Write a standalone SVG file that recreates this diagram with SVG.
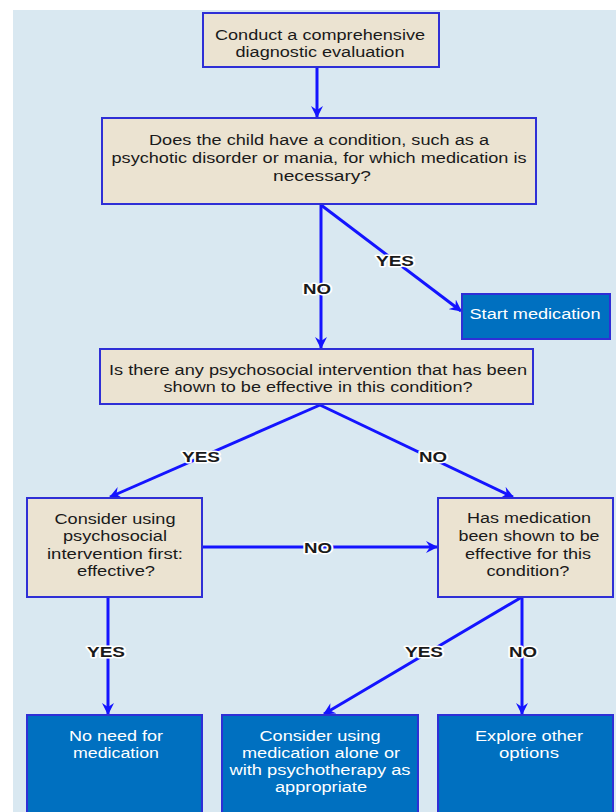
<svg xmlns="http://www.w3.org/2000/svg" width="616" height="812" viewBox="0 0 616 812">
<defs>
<marker id="ah" viewBox="0 0 12 12" refX="11" refY="6" markerWidth="12" markerHeight="12" markerUnits="userSpaceOnUse" orient="auto">
<path d="M0,0 L12,6 L0,12 L4,6 z" fill="#1414ff"/>
</marker>
<style>
.q{fill:#ebe3d1;stroke:#2f2fd6;stroke-width:2}
.o{fill:#0070c0;stroke:#2f2fd6;stroke-width:2}
.t{font-family:"Liberation Sans",Arial,sans-serif;font-size:14px;fill:#1a1a1a;text-anchor:middle}
.w{font-family:"Liberation Sans",Arial,sans-serif;font-size:14px;fill:#ffffff;text-anchor:middle}
.c{fill:none;stroke:#1414ff;stroke-width:3;marker-end:url(#ah)}
.l{font-family:"Liberation Sans",Arial,sans-serif;font-size:14px;font-weight:bold;fill:#1a1a1a;text-anchor:middle;stroke:#ffffff;stroke-width:3;paint-order:stroke;stroke-linejoin:round}
</style>
</defs>
<rect x="0" y="0" width="616" height="812" fill="#ffffff"/>
<rect x="13" y="10" width="603" height="802" fill="#d9e8f1"/>

<g id="connectors">
<line class="c" x1="317" y1="68" x2="317" y2="117"/>
<line class="c" x1="321" y1="205" x2="321" y2="348"/>
<line class="c" x1="321" y1="205" x2="461" y2="311"/>
<line class="c" x1="320" y1="405" x2="110" y2="497"/>
<line class="c" x1="320" y1="405" x2="513" y2="497"/>
<line class="c" x1="202" y1="547" x2="437" y2="547"/>
<line class="c" x1="108" y1="597" x2="108" y2="714"/>
<line class="c" x1="522" y1="597" x2="522" y2="714"/>
<line class="c" x1="522" y1="597" x2="324" y2="714"/>
<text class="l" x="395" y="266" textLength="38" lengthAdjust="spacingAndGlyphs">YES</text>
<text class="l" x="317" y="294" textLength="28" lengthAdjust="spacingAndGlyphs">NO</text>
<text class="l" x="201" y="462" textLength="38" lengthAdjust="spacingAndGlyphs">YES</text>
<text class="l" x="433" y="462" textLength="28" lengthAdjust="spacingAndGlyphs">NO</text>
<text class="l" x="318" y="553" textLength="28" lengthAdjust="spacingAndGlyphs">NO</text>
<text class="l" x="106" y="657" textLength="38" lengthAdjust="spacingAndGlyphs">YES</text>
<text class="l" x="424" y="657" textLength="38" lengthAdjust="spacingAndGlyphs">YES</text>
<text class="l" x="523" y="657" textLength="28" lengthAdjust="spacingAndGlyphs">NO</text>
</g>

<g id="n1">
<rect class="q" x="203" y="13" width="236" height="54"/>
<text class="t" x="320" y="40" textLength="210" lengthAdjust="spacingAndGlyphs">Conduct a comprehensive</text>
<text class="t" x="320" y="57" textLength="169" lengthAdjust="spacingAndGlyphs">diagnostic evaluation</text>
</g>

<g id="n2">
<rect class="q" x="102" y="118" width="434" height="86"/>
<text class="t" x="319" y="145" textLength="340" lengthAdjust="spacingAndGlyphs">Does the child have a condition, such as a</text>
<text class="t" x="319" y="163" textLength="415" lengthAdjust="spacingAndGlyphs">psychotic disorder or mania, for which medication is</text>
<text class="t" x="322" y="181" textLength="98" lengthAdjust="spacingAndGlyphs">necessary?</text>
</g>

<g id="n3">
<rect class="o" x="462" y="294" width="148" height="45"/>
<text class="w" x="535" y="319" textLength="131" lengthAdjust="spacingAndGlyphs">Start medication</text>
</g>

<g id="n4">
<rect class="q" x="100" y="349" width="433" height="55"/>
<text class="t" x="318" y="375" textLength="418" lengthAdjust="spacingAndGlyphs">Is there any psychosocial intervention that has been</text>
<text class="t" x="318" y="392" textLength="309" lengthAdjust="spacingAndGlyphs">shown to be effective in this condition?</text>
</g>

<g id="n5">
<rect class="q" x="27" y="498" width="175" height="99"/>
<text class="t" x="115" y="524" textLength="121" lengthAdjust="spacingAndGlyphs">Consider using</text>
<text class="t" x="115" y="541" textLength="104" lengthAdjust="spacingAndGlyphs">psychosocial</text>
<text class="t" x="115" y="559" textLength="136" lengthAdjust="spacingAndGlyphs">intervention first:</text>
<text class="t" x="116" y="576" textLength="78" lengthAdjust="spacingAndGlyphs">effective?</text>
</g>

<g id="n6">
<rect class="q" x="438" y="498" width="175" height="99"/>
<text class="t" x="529" y="523" textLength="124" lengthAdjust="spacingAndGlyphs">Has medication</text>
<text class="t" x="529" y="541" textLength="141" lengthAdjust="spacingAndGlyphs">been shown to be</text>
<text class="t" x="528" y="559" textLength="126" lengthAdjust="spacingAndGlyphs">effective for this</text>
<text class="t" x="528" y="576" textLength="83" lengthAdjust="spacingAndGlyphs">condition?</text>
</g>

<g id="n7">
<rect class="o" x="27" y="715" width="175" height="110"/>
<text class="w" x="116" y="741" textLength="94" lengthAdjust="spacingAndGlyphs">No need for</text>
<text class="w" x="116" y="758" textLength="86" lengthAdjust="spacingAndGlyphs">medication</text>
</g>

<g id="n8">
<rect class="o" x="222" y="715" width="196" height="110"/>
<text class="w" x="320" y="741" textLength="121" lengthAdjust="spacingAndGlyphs">Consider using</text>
<text class="w" x="321" y="758" textLength="158" lengthAdjust="spacingAndGlyphs">medication alone or</text>
<text class="w" x="320" y="775" textLength="181" lengthAdjust="spacingAndGlyphs">with psychotherapy as</text>
<text class="w" x="321" y="792" textLength="92" lengthAdjust="spacingAndGlyphs">appropriate</text>
</g>

<g id="n9">
<rect class="o" x="438" y="715" width="175" height="110"/>
<text class="w" x="529" y="741" textLength="108" lengthAdjust="spacingAndGlyphs">Explore other</text>
<text class="w" x="529" y="758" textLength="60" lengthAdjust="spacingAndGlyphs">options</text>
</g>
</svg>
